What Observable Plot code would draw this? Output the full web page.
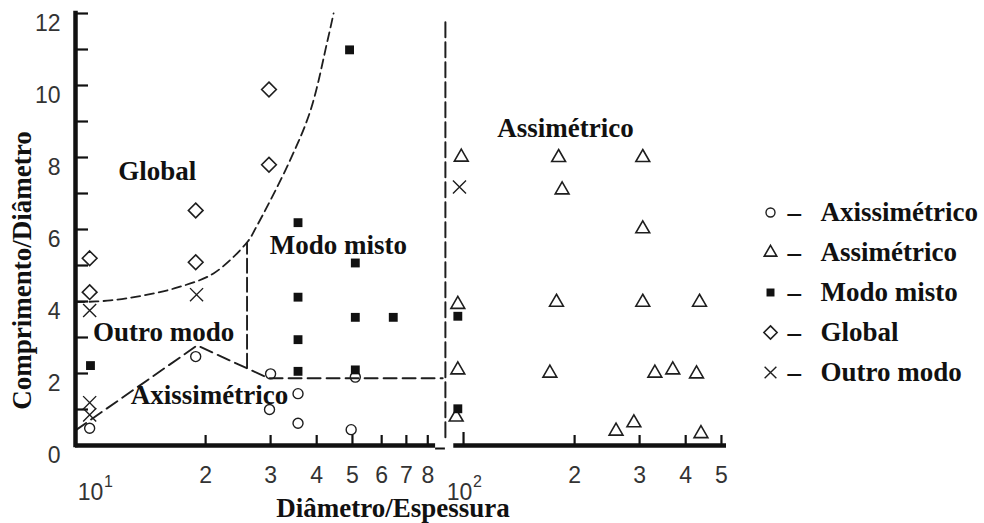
<!DOCTYPE html>
<html><head><meta charset="utf-8">
<script src="https://cdn.jsdelivr.net/npm/d3@7"></script>
<script src="https://cdn.jsdelivr.net/npm/@observablehq/plot@0.6"></script>
<style>
body{margin:0;background:#fff}
#wrap{position:relative;width:984px;height:523px;background:#fff}
#legend{position:absolute;left:740px;top:191.7px}
</style>
</head><body><div id="wrap"><div id="main"></div><div id="legend"></div></div>
<script>
// ---------- data (x = Diâmetro/Espessura, y = Comprimento/Diâmetro) ----------
const axissimetrico = [[9.7,0.48],[18.8,2.47],[30,1.99],[29.8,1.0],[35.6,1.44],[35.6,0.62],[50.9,1.9],[49.6,0.44]];
const assimetrico = [[98.6,8.01],[181,8.0],[306,8.0],[185,7.1],[306,6.02],
  [96.5,3.92],[178.6,3.98],[306,3.98],[436,3.98],
  [96.5,2.1],[171.4,2.01],[330,2.01],[369,2.1],[428,1.99],
  [95.5,0.79],[259,0.4],[289.5,0.63],[440,0.33]];
const modoMisto = [[9.75,2.22],[49.1,10.99],[35.6,6.19],[50.9,5.07],[35.6,4.12],[50.9,3.56],[64.5,3.56],
  [35.6,2.94],[35.6,2.06],[50.9,2.10],[96.5,3.59],[96.5,1.02]];
const globalModo = [[9.7,5.2],[9.7,4.26],[18.8,5.09],[18.8,6.53],[29.7,9.89],[29.7,7.8]];
const outroModo = [[9.7,3.75],[18.9,4.19],[9.7,1.19],[9.7,0.85],[97.5,7.18]];

// region boundaries (dashed)
const globalBoundary = [[8.88,3.98],[11.05,4.03],[13.58,4.17],[16.79,4.39],[21.01,4.78],[25.98,5.66],[27.31,6.03],[33.55,7.83],[38.49,9.31],[42.8,11.25],[44.44,12]];
const axiBoundary = [[8.88,0.42],[18.97,2.78],[29.6,1.87],[87.8,1.87]];
const mixedDivider = [[25.9,2.16],[25.9,5.62]];
const breakDivider = [[89.3,0.23],[89.3,11.76]];

// axes
const xDomain = [8.88, 516];
const yDomain = [0, 12];
const xAxisSegments = [[8.88, 84.0], [94.1, 516]];
const xBreakStub = [[84.0, 89.3]];
const xMinorTicks = [20,30,40,50,60,70,80,200,300,400,500];
const xDecadeTicks = [100];
const xTickLabels = [[20,"2"],[30,"3"],[40,"4"],[50,"5"],[60,"6"],[70,"7"],[80,"8"],[200,"2"],[300,"3"],[400,"4"],[500,"5"]];
const xDecadeLabels = [[10,"10","1"],[100,"10","2"]];
const yTicks = [0,1,2,3,4,5,6,7,8,9,10,11,12];
const yTickLabels = [0,2,4,6,8,10,12];

const regionLabels = [["Global",14.8,7.61],["Outro modo",15.4,3.14],["Axissimétrico",20.5,1.39],["Modo misto",45.8,5.56],["Assimétrico",189,8.81]];
const legendItems = ["Axissimétrico","Assimétrico","Modo misto","Global","Outro modo"];
const legendSymbols = ["circle","triangle2","square","diamond2","times"];

const xTitle = "Diâmetro/Espessura";
const yTitle = "Comprimento/Diâmetro";

// ---------- styles ----------
const SERIF = "'Liberation Serif','Times New Roman',serif";
const SANS = "'Liberation Sans',Arial,Helvetica,sans-serif";
const INK = "#1e1e1e";
const style = {
  "Axissimétrico": {symbol:"circle", r:5, fill:"none", stroke:INK, strokeWidth:1.4},
  "Assimétrico": {symbol:"triangle2", r:6.6, fill:"none", stroke:INK, strokeWidth:1.6},
  "Modo misto": {symbol:"square", r:5.0, fill:"#111", stroke:"none"},
  "Global": {symbol:"diamond2", r:6.6, fill:"none", stroke:INK, strokeWidth:1.6},
  "Outro modo": {symbol:"times", r:6.0, fill:"none", stroke:INK, strokeWidth:1.4}
};
const seriesData = {"Axissimétrico":axissimetrico,"Assimétrico":assimetrico,"Modo misto":modoMisto,"Global":globalModo,"Outro modo":outroModo};

const px = d => d[0], py = d => d[1];

const main = Plot.plot({
  width: 984, height: 523,
  marginLeft: 75, marginRight: 258, marginTop: 13, marginBottom: 78,
  x: {type: "log", domain: xDomain, axis: null},
  y: {domain: yDomain, axis: null},
  style: {background: "white", overflow: "visible", fontFamily: SANS},
  marks: [
    // dashed boundaries
    Plot.line(globalBoundary, {x: px, y: py, curve: "catmull-rom", stroke: INK, strokeWidth: 1.8, strokeDasharray: "9,5"}),
    Plot.line(axiBoundary, {x: px, y: py, stroke: INK, strokeWidth: 1.9, strokeDasharray: "13,6"}),
    Plot.line(mixedDivider, {x: px, y: py, stroke: INK, strokeWidth: 1.9, strokeDasharray: "14,5"}),
    Plot.line(breakDivider, {x: px, y: py, stroke: INK, strokeWidth: 2, strokeDasharray: "15,5"}),
    // axes lines
    Plot.ruleX([xDomain[0]], {x: d => d, y1: yDomain[0], y2: yDomain[1], stroke: "#111", strokeWidth: 4.5, strokeLinecap: "square"}),
    Plot.ruleY(xAxisSegments, {y: 0, x1: d => d[0], x2: d => d[1], stroke: "#111", strokeWidth: 4.5}),
    Plot.ruleY(xBreakStub, {y: 0, x1: d => d[0], x2: d => d[1], stroke: "#111", strokeWidth: 2, dy: 3}),
    // ticks (inward)
    Plot.ruleY(yTicks, {y: d => d, x1: xDomain[0], x2: xDomain[0], insetRight: -13, stroke: "#111", strokeWidth: 2.2}),
    Plot.ruleX(xMinorTicks, {x: d => d, y1: 0, y2: 0, insetTop: -10, stroke: "#111", strokeWidth: 2.2}),
    Plot.ruleX(xDecadeTicks, {x: d => d, y1: 0, y2: 0, insetTop: -13, stroke: "#111", strokeWidth: 2.2}),
    // tick labels
    Plot.text(yTickLabels, {y: d => d, frameAnchor: "left", text: d => String(d), textAnchor: "end", lineAnchor: "middle", dx: -15, dy: 10, fontSize: 23, fill: "#333", fontFamily: SANS}),
    Plot.text(xTickLabels, {x: d => d[0], frameAnchor: "bottom", text: d => d[1], textAnchor: "middle", lineAnchor: "middle", dy: 30, fontSize: 23, fill: "#333", fontFamily: SANS}),
    Plot.text(xDecadeLabels, {x: d => d[0], frameAnchor: "bottom", text: d => d[1], textAnchor: "middle", lineAnchor: "middle", dx: -4, dy: 47, fontSize: 23, fill: "#333", fontFamily: SANS}),
    Plot.text(xDecadeLabels, {x: d => d[0], frameAnchor: "bottom", text: d => d[2], textAnchor: "middle", lineAnchor: "middle", dx: 14, dy: 36, fontSize: 16, fill: "#333", fontFamily: SANS}),
    // axis titles
    Plot.text([xTitle], {frameAnchor: "bottom", text: d => d, textAnchor: "middle", lineAnchor: "middle", dx: -8, dy: 63, fontSize: 27, fontWeight: "bold", fontFamily: SERIF, fill: "#111"}),
    Plot.text([yTitle], {frameAnchor: "left", text: d => d, textAnchor: "middle", lineAnchor: "middle", rotate: -90, dx: -53, dy: 41, fontSize: 27, fontWeight: "bold", fontFamily: SERIF, fill: "#111"}),
    // region labels
    Plot.text(regionLabels, {x: d => d[1], y: d => d[2], text: d => d[0], fontSize: 27, fontWeight: "bold", fontFamily: SERIF, fill: "#111"}),
    // data points
    ...legendItems.map(name => Plot.dot(seriesData[name], {x: px, y: py, ...style[name]}))
  ]
});
document.getElementById("main").appendChild(main);

// ---------- legend ----------
const legend = Plot.plot({
  width: 244, height: 200,
  marginLeft: 30, marginRight: 0, marginTop: 20, marginBottom: 20,
  x: {domain: [0, 1], axis: null},
  y: {type: "point", domain: legendItems, padding: 0, axis: null},
  style: {background: "transparent", overflow: "visible"},
  marks: [
    ...legendItems.map((name, i) => Plot.dot([name], {x: 0, y: d => d, ...style[name], symbol: legendSymbols[i], r: style[name].r * 0.9})),
    Plot.text(legendItems, {x: 0, y: d => d, text: () => "–", textAnchor: "start", dx: 17, fontSize: 27, fontWeight: "bold", fontFamily: SERIF, fill: "#111"}),
    Plot.text(legendItems, {x: 0, y: d => d, text: d => d, textAnchor: "start", dx: 50, fontSize: 27, fontWeight: "bold", fontFamily: SERIF, fill: "#111"})
  ]
});
document.getElementById("legend").appendChild(legend);
</script>
</body></html>
